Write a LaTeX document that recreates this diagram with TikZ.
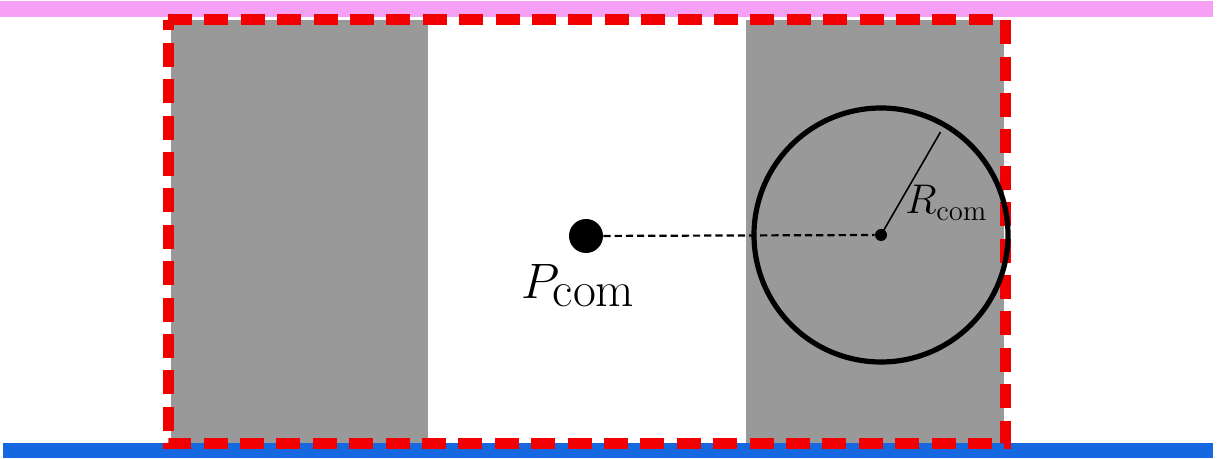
\documentclass[tikz,border=0pt]{standalone}
\definecolor{pinkband}{RGB}{245,160,245}
\definecolor{blueband}{RGB}{22,104,224}
\definecolor{grayfill}{RGB}{153,153,153}
\definecolor{redline}{RGB}{240,0,0}
\tikzset{
  grayblock/.style={fill=grayfill, draw=none},
  redbox/.style={draw=redline, line width=5.5pt, dash pattern=on 12pt off 6.2pt},
  bigdot/.style={circle, fill=black, inner sep=0, minimum size=17pt},
  smalldot/.style={circle, fill=black, inner sep=0, minimum size=6pt},
  ringstyle/.style={circle, draw=black, line width=2.6pt, inner sep=0, minimum size=127pt},
  linkline/.style={line width=1.1pt, dash pattern=on 3.6pt off 2pt},
  radline/.style={line width=0.8pt}
}
\begin{document}
\begin{tikzpicture}[x=0.5pt,y=0.5pt]
\useasboundingbox (0,0) rectangle (1230,459);
% bands
\fill[pinkband] (0,442) rectangle (1213,458);
\fill[blueband] (3,1) rectangle (1213,16);
% gray blocks
\path[grayblock] (171,16) rectangle (428,439);
\path[grayblock] (746,16) rectangle (1004,439);
% red dashed box
\draw[redbox] (168,439) -- (1005,439) -- (1005,15) -- (168,15) -- cycle;
% circle and points
\node[ringstyle] (ring) at (881,224) {};
\node[smalldot] (c) at (881,224) {};
\node[bigdot] (p) at (586,223) {};
\draw[linkline] (p) -- (c);
\coordinate (rend) at ([shift={(60:119)}]881,224);
\draw[radline] (c.center) -- (rend);
\node[anchor=base west, inner sep=0] (plabel) at (521,160) {\fontsize{33}{38}\selectfont $P_{\mathrm{com}}$};
\node[anchor=base west, inner sep=0] (rlabel) at (905,245) {\fontsize{22.5}{27}\selectfont $R_{\mathrm{com}}$};
\end{tikzpicture}
\end{document}
